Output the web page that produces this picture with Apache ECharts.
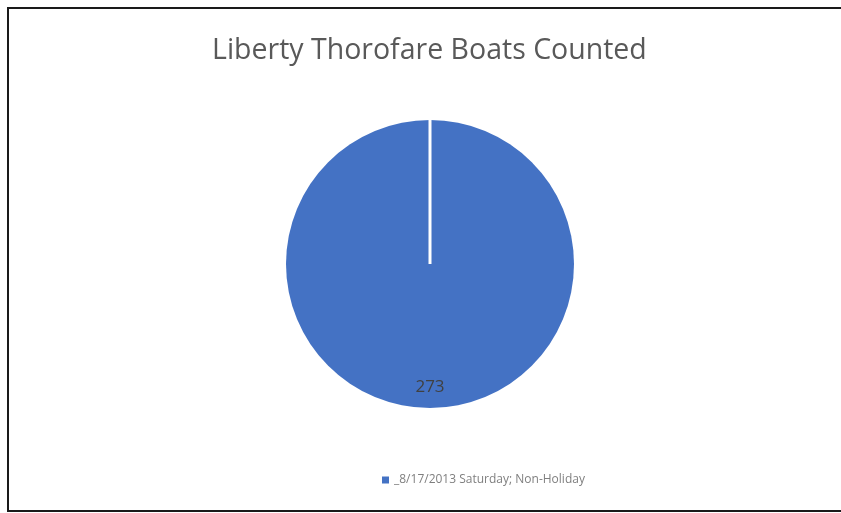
<!DOCTYPE html>
<html>
<head>
<meta charset="utf-8">
<script src="https://cdn.jsdelivr.net/npm/echarts@6/dist/echarts.min.js"></script>
<style>
  html, body { margin: 0; padding: 0; background: #fff; overflow: hidden; }
  #frame {
    position: absolute; left: 7px; top: 7px; width: 832px; height: 501px;
    border-top: 2px solid #1a1a1a; border-left: 2px solid #1a1a1a; border-bottom: 2px solid #1a1a1a;
  }
  #main { position: absolute; left: 0; top: 0; width: 841px; height: 513px; }
</style>
</head>
<body>
<div id="frame"></div>
<div id="main"></div>
<script>
// data
var categories = ['8/17/2013 Saturday; Non-Holiday']
var values = [273]

var chart = echarts.init(document.getElementById('main'))
var center = [430, 264]
var radius = 144

var option = {
    animation: false,
    title: {
        text: 'Liberty Thorofare Boats Counted',
        left: 207,
        top: 31,
        textStyle: {
            fontFamily: 'Open Sans',
            fontSize: 28.5,
            fontWeight: 'normal',
            color: '#595959'
        }
    },
    legend: {
        bottom: 22,
        left: 377,
        itemWidth: 7,
        itemHeight: 7,
        itemGap: 6,
        icon: 'rect',
        data: categories.map(function (c) { return '_' + c }),
        textStyle: {
            fontFamily: 'Open Sans',
            fontSize: 12,
            color: '#7f7f7f'
        }
    },
    series: [{
        type: 'pie',
        center: center,
        radius: [0, radius],
        startAngle: 90,
        clockwise: true,
        emphasis: { disabled: true },
        itemStyle: {
            color: '#4472c4',
            borderColor: '#fff',
            borderWidth: 0
        },
        label: {
            show: true,
            position: 'inside',
            // push the value down toward the rim, like the original
            formatter: '\n\n\n\n{c}',
            lineHeight: 24,
            fontFamily: 'Open Sans',
            fontSize: 17,
            color: '#404040',
            padding: [0, 0, 4, 0]
        },
        labelLine: { show: false },
        data: categories.map(function (c, i) {
            return { name: '_' + c, value: values[i] }
        })
    }],
    // slice edge of the single 100% slice (from centre to top)
    graphic: [{
        type: 'line',
        shape: { x1: center[0], y1: center[1], x2: center[0], y2: center[1] - radius },
        style: { stroke: '#fff', lineWidth: 3 },
        z: 10
    }]
}
chart.setOption(option, true)
</script>
</body>
</html>
